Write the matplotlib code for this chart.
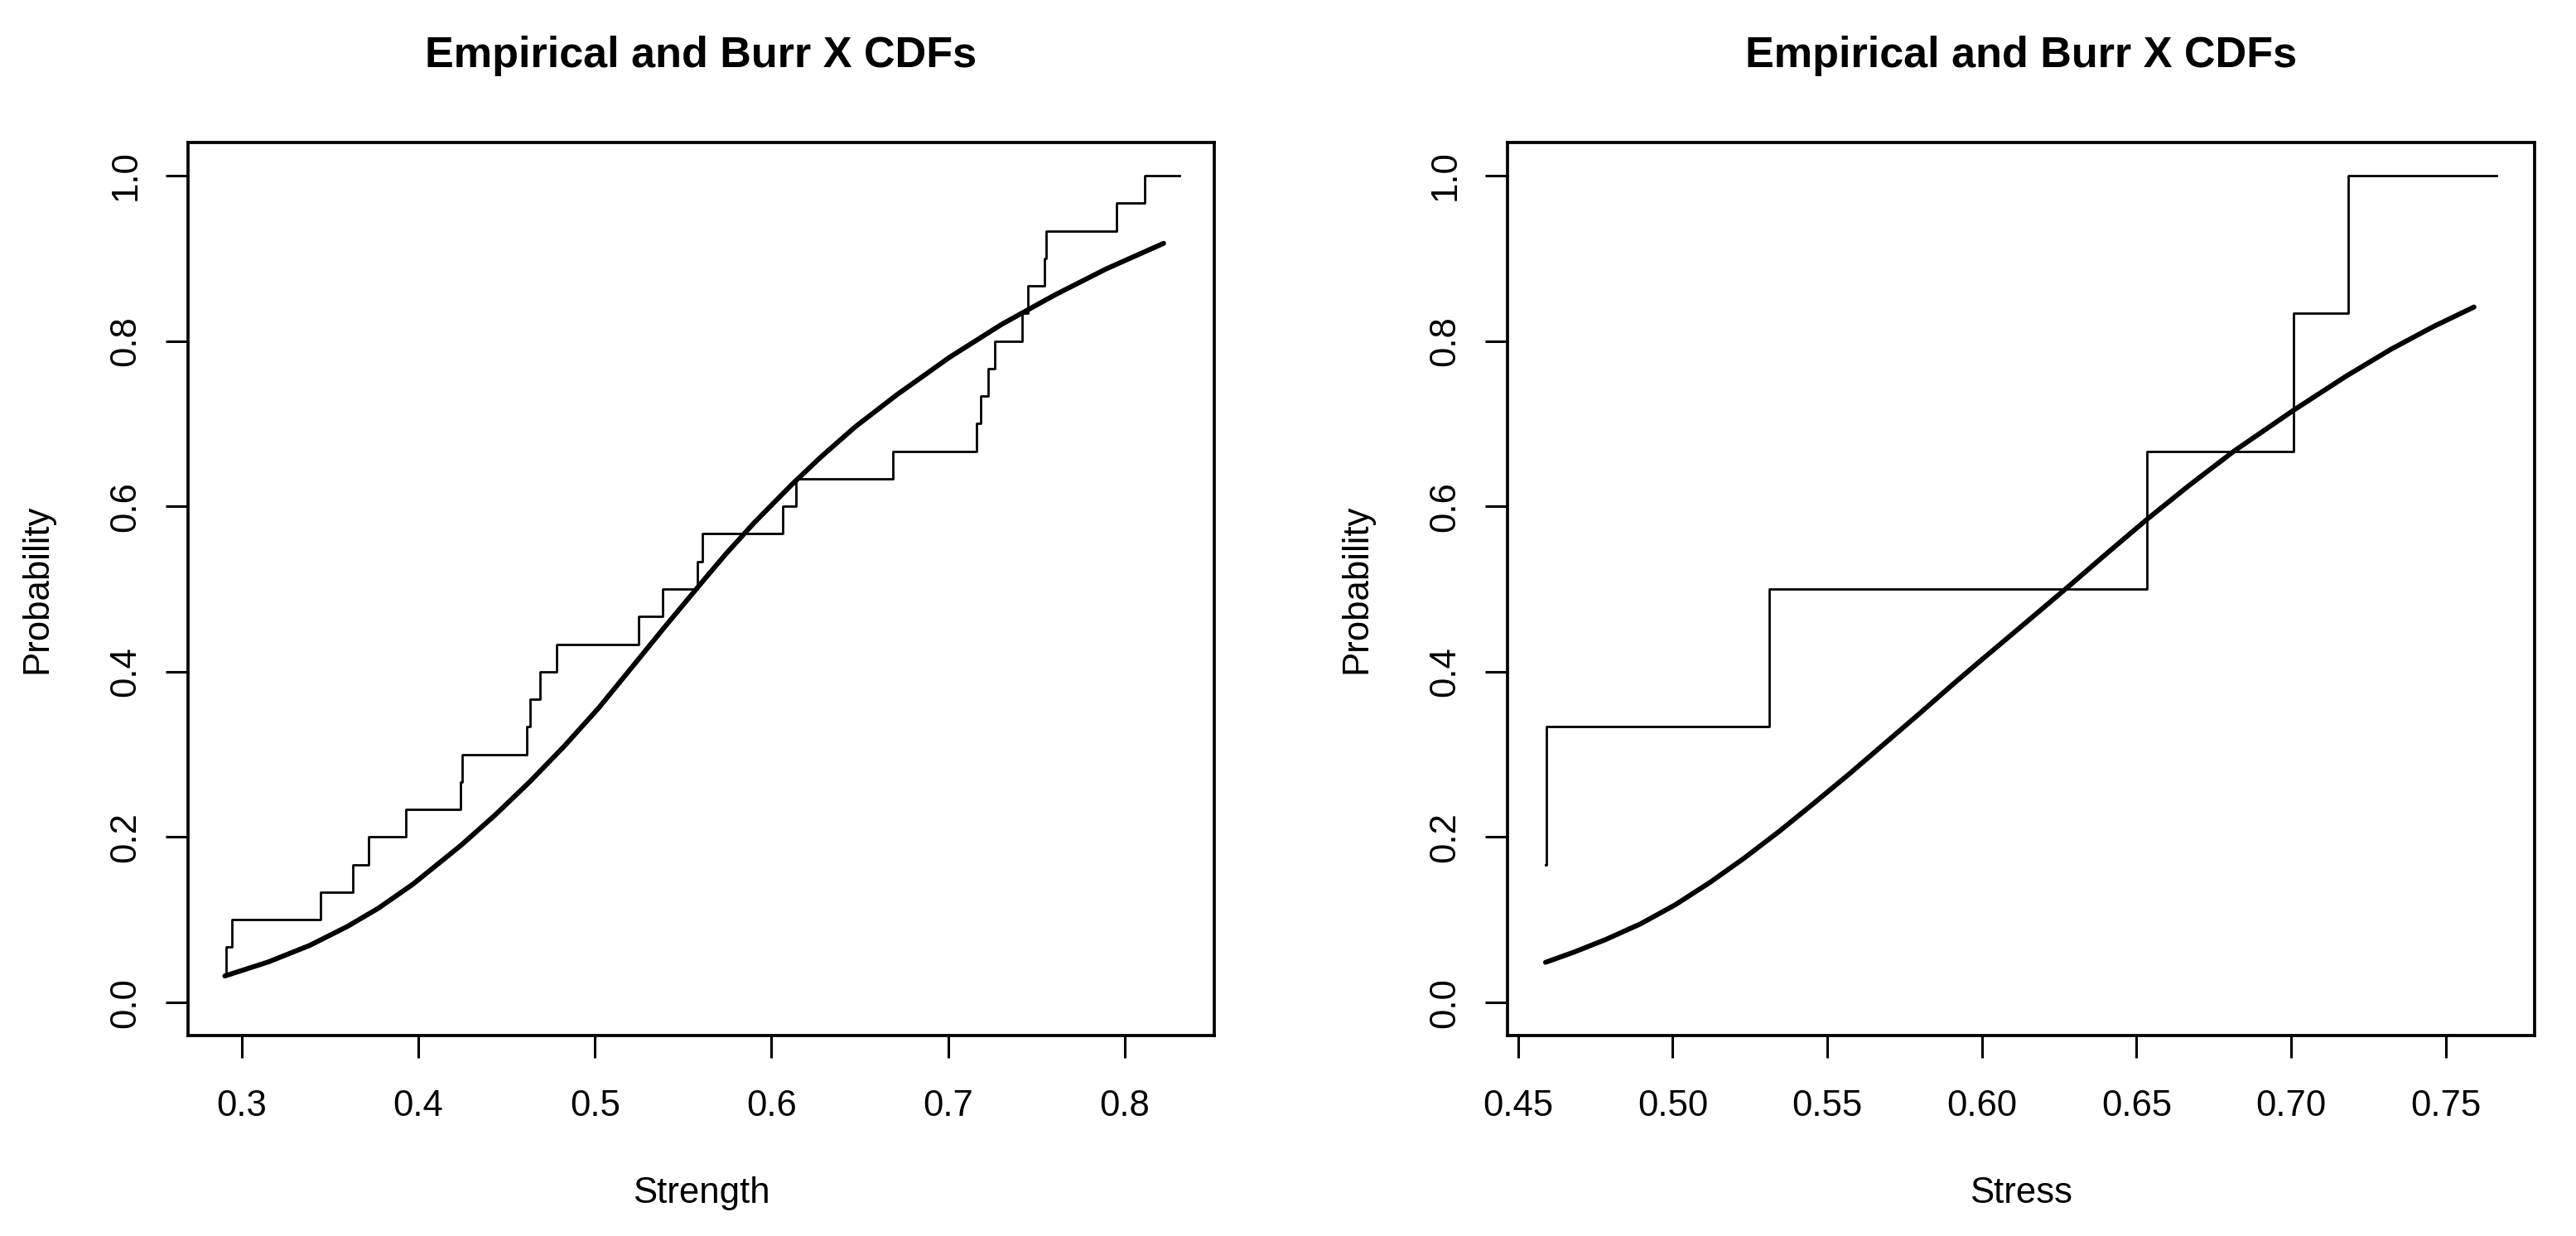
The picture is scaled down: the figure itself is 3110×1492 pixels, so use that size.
"""Empirical CDF vs fitted Burr X CDF, two panels (Strength / Stress)."""

import matplotlib

matplotlib.use("Agg")
import matplotlib.pyplot as plt

plt.rcParams["font.family"] = ["Liberation Sans", "DejaVu Sans"]

# ---- left panel: Strength ----
strength_x = [
	0.2905, 0.2911, 0.2945, 0.3447, 0.3632, 0.3718, 0.3928, 0.4238, 0.4250, 0.4616,
	0.4634, 0.4689, 0.4785, 0.5247, 0.5382, 0.5579, 0.5610, 0.6063, 0.6140, 0.6689,
	0.7162, 0.7186, 0.7226, 0.7262, 0.7419, 0.7451, 0.7543, 0.7554, 0.7953, 0.8114,
	0.8310,
]
strength_ecdf = [
	0.0333, 0.0667, 0.1000, 0.1333, 0.1667, 0.2000, 0.2333, 0.2667, 0.3000, 0.3333,
	0.3667, 0.4000, 0.4333, 0.4667, 0.5000, 0.5333, 0.5667, 0.6000, 0.6333, 0.6667,
	0.7000, 0.7333, 0.7667, 0.8000, 0.8333, 0.8667, 0.9000, 0.9333, 0.9667, 1.0000,
	1.0000,
]
strength_fit_x = [
	0.2905, 0.3152, 0.3386, 0.3600, 0.3775, 0.3970, 0.4242, 0.4437, 0.4632, 0.4827,
	0.5021, 0.5216, 0.5391, 0.5621, 0.5744, 0.5901, 0.6118, 0.6276, 0.6473, 0.6710,
	0.7006, 0.7302, 0.7598, 0.7893, 0.8219,
]
strength_fit_y = [
	0.032, 0.049, 0.069, 0.092, 0.114, 0.143, 0.190, 0.227, 0.267, 0.310,
	0.356, 0.407, 0.453, 0.512, 0.543, 0.580, 0.627, 0.659, 0.696, 0.735,
	0.780, 0.820, 0.855, 0.887, 0.918,
]

# ---- right panel: Stress ----
stress_x = [0.4589, 0.4592, 0.5311, 0.6533, 0.7008, 0.7184, 0.7665]
stress_ecdf = [0.1667, 0.3333, 0.5000, 0.6667, 0.8333, 1.0000, 1.0000]
stress_fit_x = [
	0.4589, 0.4682, 0.4783, 0.4896, 0.5008, 0.5120, 0.5233, 0.5345, 0.5457, 0.5570,
	0.5682, 0.5794, 0.5907, 0.6001, 0.6141, 0.6286, 0.6410, 0.6533, 0.6669, 0.6816,
	0.7007, 0.7176, 0.7323, 0.7458, 0.7591,
]
stress_fit_y = [
	0.0485, 0.061, 0.076, 0.095, 0.118, 0.145, 0.175, 0.207, 0.241, 0.276,
	0.312, 0.348, 0.385, 0.415, 0.459, 0.505, 0.545, 0.584, 0.625, 0.667,
	0.716, 0.757, 0.790, 0.817, 0.841,
]

y_ticks = [0.0, 0.2, 0.4, 0.6, 0.8, 1.0]
y_ticklabels = ["0.0", "0.2", "0.4", "0.6", "0.8", "1.0"]
strength_ticks = [0.3, 0.4, 0.5, 0.6, 0.7, 0.8]
strength_ticklabels = ["0.3", "0.4", "0.5", "0.6", "0.7", "0.8"]
stress_ticks = [0.45, 0.50, 0.55, 0.60, 0.65, 0.70, 0.75]
stress_ticklabels = ["0.45", "0.50", "0.55", "0.60", "0.65", "0.70", "0.75"]

TITLE = "Empirical and Burr X CDFs"
FS = 31.5


def draw_panel(ax, sx, sy, fx, fy, xlim, ticks, ticklabels, xlabel):
	# 阶梯 = 经验分布，粗线 = 拟合的 Burr X
	ax.step(sx, sy, where="post", color="black", linewidth=2.0)
	ax.plot(fx, fy, color="black", linewidth=4.3, solid_capstyle="round",
			solid_joinstyle="round")

	ax.set_xlim(*xlim)
	ax.set_ylim(-0.04, 1.04)
	ax.set_xticks(ticks)
	ax.set_xticklabels(ticklabels)
	ax.set_yticks(y_ticks)
	ax.set_yticklabels(y_ticklabels, rotation=90, va="center")

	ax.tick_params(axis="both", direction="out", length=19.4, width=2.2,
				   labelsize=FS, color="black")
	ax.tick_params(axis="x", pad=27.4)
	ax.tick_params(axis="y", pad=20)
	for spine in ax.spines.values():
		spine.set_linewidth(2.7)
		spine.set_color("black")

	ax.set_xlabel(xlabel, fontsize=FS)
	ax.set_ylabel("Probability", fontsize=FS)
	ax.xaxis.set_label_coords(0.5, -0.1577)
	ax.yaxis.set_label_coords(-0.1307, 0.5)
	ax.set_title(TITLE, fontsize=37.5, fontweight="bold", pad=65.5)


fig = plt.figure(figsize=(31.1, 14.92), dpi=100)
fig.patch.set_facecolor("white")

ax1 = fig.add_axes([0.07299, 0.16220, 0.39839, 0.72252])
draw_panel(ax1, strength_x, strength_ecdf, strength_fit_x, strength_fit_y,
		   (0.2697, 0.8506), strength_ticks, strength_ticklabels, "Strength")

ax2 = fig.add_axes([0.58521, 0.16220, 0.39871, 0.72252])
draw_panel(ax2, stress_x, stress_ecdf, stress_fit_x, stress_fit_y,
		   (0.4466, 0.7787), stress_ticks, stress_ticklabels, "Stress")

fig.savefig("out.png", dpi=100, facecolor="white")
plt.close(fig)
